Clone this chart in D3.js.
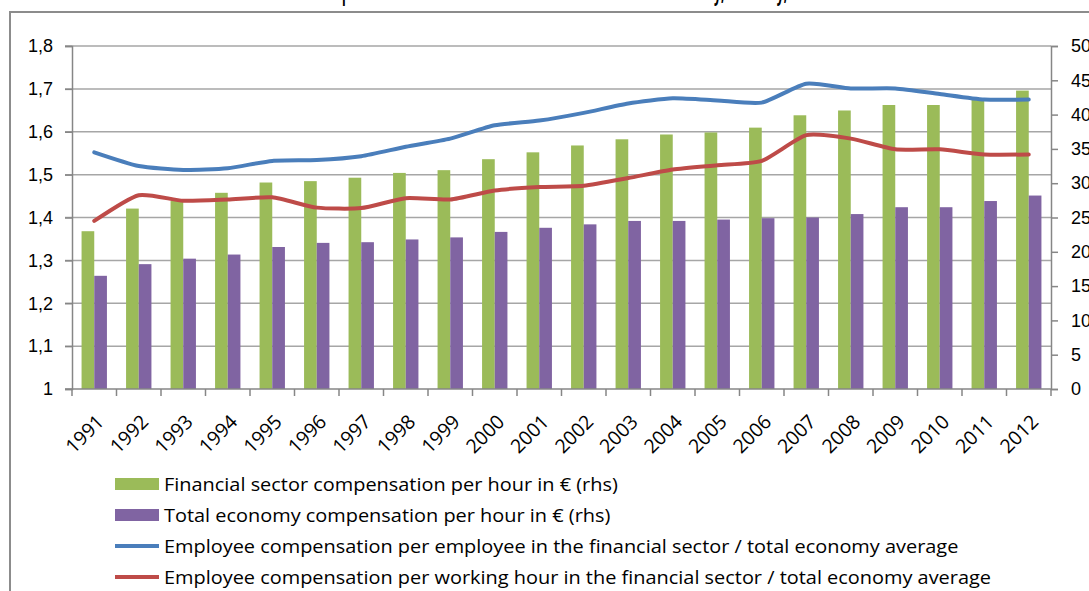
<!DOCTYPE html>
<html>
<head>
<meta charset="utf-8">
<script src="https://cdn.jsdelivr.net/npm/d3@7"></script>
<style>
  body { margin: 0; background: #fff; }
  svg { display: block; font-family: "Open Sans", "Liberation Sans", Arial, sans-serif; }
</style>
</head>
<body>
<svg id="chart" width="1089" height="591"></svg>
<script>
// data
var years = ['1991','1992','1993','1994','1995','1996','1997','1998','1999','2000','2001',
             '2002','2003','2004','2005','2006','2007','2008','2009','2010','2011','2012'];
// bars, right axis (EUR per hour)
var finPerHour = [23.0, 26.3, 27.4, 28.6, 30.1, 30.3, 30.8, 31.5, 31.9, 33.5, 34.5,
                  35.5, 36.4, 37.1, 37.4, 38.1, 39.9, 40.6, 41.4, 41.4, 42.2, 43.5];
var totPerHour = [16.5, 18.2, 19.0, 19.6, 20.7, 21.3, 21.4, 21.8, 22.1, 22.9, 23.5,
                  24.0, 24.5, 24.5, 24.7, 24.9, 25.0, 25.5, 26.5, 26.5, 27.4, 28.2];
// lines, left axis (ratio)
var ratioPerEmployee = [1.552, 1.520, 1.511, 1.515, 1.532, 1.534, 1.543, 1.565, 1.584, 1.615, 1.626,
                        1.644, 1.666, 1.678, 1.673, 1.668, 1.712, 1.701, 1.701, 1.688, 1.675, 1.675];
var ratioPerHour = [1.392, 1.452, 1.439, 1.442, 1.447, 1.423, 1.422, 1.445, 1.442, 1.463, 1.471,
                    1.474, 1.492, 1.512, 1.522, 1.532, 1.592, 1.584, 1.559, 1.559, 1.547, 1.547];
var leftTicks = [1, 1.1, 1.2, 1.3, 1.4, 1.5, 1.6, 1.7, 1.8];
var rightTicks = [0, 5, 10, 15, 20, 25, 30, 35, 40, 45, 50];

var legendItems = [
  {label: 'Financial sector compensation per hour in € (rhs)', type: 'bar', color: '#9bbb59'},
  {label: 'Total economy compensation per hour in € (rhs)', type: 'bar', color: '#8064a2'},
  {label: 'Employee compensation per employee in the financial sector / total economy average', type: 'line', color: '#4a7ebb'},
  {label: 'Employee compensation per working hour in the financial sector / total economy average', type: 'line', color: '#be4b48'}
];
var titleText = 'Compensation in the financial sector relative to the total economy, Germany, 1991-2012';

var svg = d3.select('#chart');
var mLeft = 72, mRight = 1051, mTop = 46, mBottom = 389;
var fmt = function (d) { return String(d).replace('.', ','); };

// outer chart frame
svg.append('rect').attr('x', 10).attr('y', 12).attr('width', 1100).attr('height', 620)
  .attr('fill', 'none').attr('stroke', '#8c8c8c').attr('stroke-width', 2);

// title, mostly cut by the top edge
var title = svg.append('text').attr('x', 300).attr('y', 0)
  .attr('font-weight', 'bold').attr('font-size', 24).attr('fill', '#000').text(titleText);
(function () {
  var node = title.node();
  var ip = titleText.indexOf('p'), iy = titleText.indexOf('y,');
  var px = node.getStartPositionOfChar(ip).x, py = node.getStartPositionOfChar(iy).x;
  var s = (714 - 342) / (py - px);
  var total = node.getComputedTextLength();
  title.attr('x', 342 - (px - 300) * s).attr('textLength', total * s).attr('lengthAdjust', 'spacingAndGlyphs');
})();

var x0 = d3.scaleBand().domain(years).range([mLeft, mRight]).paddingInner(0.43).paddingOuter(0.215);
var x1 = d3.scaleBand().domain(['fin', 'tot']).range([0, x0.bandwidth()]);
var band = d3.scaleBand().domain(years).range([mLeft, mRight]);
var yL = d3.scaleLinear().domain([1, 1.8]).range([mBottom, mTop]);
var yR = d3.scaleLinear().domain([0, 50]).range([mBottom, mTop]);

// gridlines
svg.append('g').selectAll('line').data(leftTicks.slice(1)).enter().append('line')
  .attr('x1', mLeft - 7).attr('x2', mRight)
  .attr('y1', function (d) { return yL(d); }).attr('y2', function (d) { return yL(d); })
  .attr('stroke', '#a6a6a6').attr('stroke-width', 1.5);

// bars
var groups = svg.append('g').selectAll('g').data(years).enter().append('g')
  .attr('transform', function (d) { return 'translate(' + x0(d) + ',0)'; });
groups.append('rect').attr('x', x1('fin')).attr('width', x1.bandwidth())
  .attr('y', function (d, i) { return yR(finPerHour[i]); })
  .attr('height', function (d, i) { return mBottom - yR(finPerHour[i]); })
  .attr('fill', '#9bbb59');
groups.append('rect').attr('x', x1('tot')).attr('width', x1.bandwidth())
  .attr('y', function (d, i) { return yR(totPerHour[i]); })
  .attr('height', function (d, i) { return mBottom - yR(totPerHour[i]); })
  .attr('fill', '#8064a2');

// axes
var axisColor = '#868686';
var gL = svg.append('g').attr('transform', 'translate(' + mLeft + ',0)')
  .call(d3.axisLeft(yL).tickValues(leftTicks).tickSize(7).tickPadding(12).tickFormat(fmt));
var gR = svg.append('g').attr('transform', 'translate(' + mRight + ',0)')
  .call(d3.axisRight(yR).tickValues(rightTicks).tickSize(7).tickPadding(13));
var gB = svg.append('g').attr('transform', 'translate(0,' + mBottom + ')')
  .call(d3.axisBottom(band).tickSize(0).tickFormat(''));
[gL, gR, gB].forEach(function (g) {
  g.select('.domain').attr('stroke', axisColor).attr('stroke-width', 1.5);
  g.selectAll('.tick line').attr('stroke', axisColor).attr('stroke-width', 1.5);
  g.selectAll('text').attr('font-size', 18).attr('fill', '#000').attr('font-family', null);
});
gB.select('.domain').attr('d', 'M' + (mLeft - 7) + ',0H' + mRight);
gB.selectAll('.boundary').data(years.concat(['end'])).enter().append('line')
  .attr('x1', function (d, i) { return mLeft + i * band.step(); })
  .attr('x2', function (d, i) { return mLeft + i * band.step(); })
  .attr('y1', 0).attr('y2', 7).attr('stroke', axisColor).attr('stroke-width', 1.5);
svg.append('g').selectAll('text').data(years).enter().append('text')
  .attr('transform', function (d) {
    return 'translate(' + (band(d) + band.bandwidth() / 2 + 11) + ',' + 423 + ') rotate(-45)';
  })
  .attr('text-anchor', 'end').attr('font-size', 19.5).attr('fill', '#000')
  .text(function (d) { return d; });

// lines
var cx = function (i) { return x0(years[i]) + x0.bandwidth() / 2; };
var line = d3.line().x(function (d, i) { return cx(i); }).y(function (d) { return yL(d); })
  .curve(d3.curveCardinal.tension(0.4));
svg.append('path').datum(ratioPerEmployee).attr('d', line).attr('fill', 'none')
  .attr('stroke', '#4a7ebb').attr('stroke-width', 4).attr('stroke-linecap', 'round').attr('stroke-linejoin', 'round');
svg.append('path').datum(ratioPerHour).attr('d', line).attr('fill', 'none')
  .attr('stroke', '#be4b48').attr('stroke-width', 4).attr('stroke-linecap', 'round').attr('stroke-linejoin', 'round');

// legend
var leg = svg.append('g').selectAll('g').data(legendItems).enter().append('g')
  .attr('transform', function (d, i) { return 'translate(115,' + (484 + i * 31) + ')'; });
leg.filter(function (d) { return d.type === 'bar'; }).append('rect')
  .attr('x', 0).attr('y', -6).attr('width', 44).attr('height', 12)
  .attr('fill', function (d) { return d.color; });
leg.filter(function (d) { return d.type === 'line'; }).append('line')
  .attr('x1', 0).attr('x2', 44).attr('y1', 0).attr('y2', 0)
  .attr('stroke', function (d) { return d.color; }).attr('stroke-width', 4);
var legText = leg.append('text').attr('x', 49).attr('y', 7).attr('font-size', 18).attr('fill', '#000')
  .text(function (d) { return d.label; });
// widen the legend texts to the reference's narrow-font-at-larger-size look
var longest = legText.nodes()[3].getComputedTextLength();
var k = 827 / longest;
legText.each(function () {
  d3.select(this).attr('textLength', this.getComputedTextLength() * k).attr('lengthAdjust', 'spacingAndGlyphs');
});
</script>
</body>
</html>
